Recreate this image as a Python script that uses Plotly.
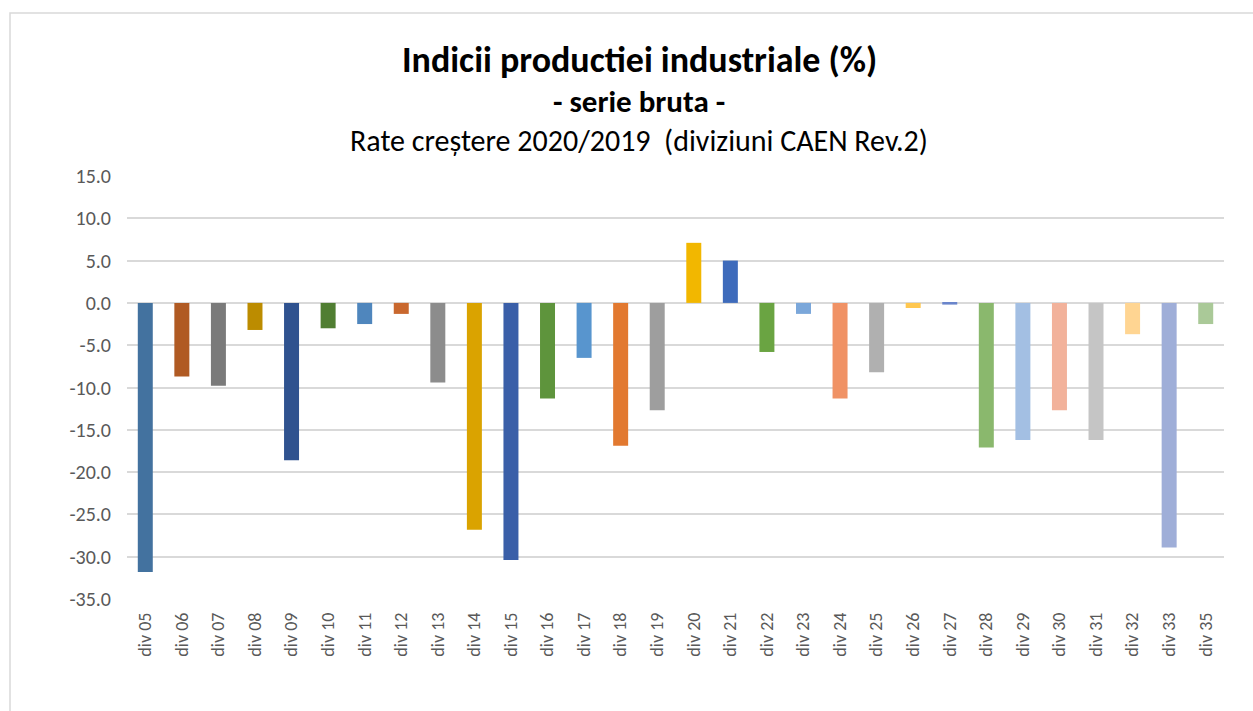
import plotly.graph_objects as go

categories = ["div 05", "div 06", "div 07", "div 08", "div 09", "div 10", "div 11", "div 12",
              "div 13", "div 14", "div 15", "div 16", "div 17", "div 18", "div 19", "div 20",
              "div 21", "div 22", "div 23", "div 24", "div 25", "div 26", "div 27", "div 28",
              "div 29", "div 30", "div 31", "div 32", "div 33", "div 35"]
values = [-31.8, -8.7, -9.8, -3.2, -18.6, -3.0, -2.5, -1.3,
          -9.4, -26.8, -30.4, -11.3, -6.5, -16.9, -12.7, 7.1,
          5.0, -5.8, -1.3, -11.3, -8.2, -0.6, -0.2, -17.1,
          -16.2, -12.7, -16.2, -3.7, -28.9, -2.5]
colors = ["#43729F", "#B05A23", "#7A7A7A", "#BC8C00", "#2F528F", "#507E32", "#4F86BD", "#C9682E",
          "#8C8C8C", "#DAA300", "#3A5FA8", "#5E943C", "#5895CE", "#E27930", "#9E9E9E", "#F2B700",
          "#3E6BBB", "#6AA442", "#7BA7DA", "#F09265", "#B0B0B0", "#FFC74F", "#6A85CB", "#8AB86D",
          "#A3BFE3", "#F2B29B", "#C5C5C5", "#FFD592", "#9FAED8", "#AAC998"]
y_ticks = [15, 10, 5, 0, -5, -10, -15, -20, -25, -30, -35]

FONT = "Carlito, Calibri, Lato, sans-serif"

W, H = 1253, 711
L, R, T, B = 127, 29, 176, 112

fig = go.Figure(go.Bar(
    x=categories, y=values, marker=dict(color=colors, line=dict(width=0)),
    hoverinfo="x+y",
))

fig.update_layout(
    width=W, height=H,
    margin=dict(l=L, r=R, t=T, b=B),
    paper_bgcolor="white", plot_bgcolor="white",
    bargap=0.59,
    showlegend=False,
    font=dict(family=FONT, color="#595959"),
    xaxis=dict(tickangle=-90, tickfont=dict(size=18, color="#595959", family=FONT),
               showgrid=False, showline=False, ticks="", ticklen=0, ticklabelstandoff=9),
    yaxis=dict(range=[-35, 15], tickvals=y_ticks, ticktext=[f"{v:.1f}" for v in y_ticks],
               tickfont=dict(size=20, color="#595959", family=FONT),
               showgrid=True, gridcolor="#D9D9D9", gridwidth=1.5,
               zeroline=True, zerolinecolor="#D9D9D9", zerolinewidth=1.5,
               showline=False, ticks="", ticklabelstandoff=15),
)

pw, ph = W - L - R, H - T - B


def px_x(x):
    return (x - L) / pw


def px_y(y):
    return (H - B - y) / ph


fig.add_shape(type="rect", xref="paper", yref="paper",
              x0=px_x(10), x1=px_x(1270), y0=px_y(730), y1=px_y(13),
              line=dict(color="#D9D9D9", width=1.5), fillcolor="rgba(0,0,0,0)", layer="below")

titles = [
    ("<b>Indicii productiei industriale (%)</b>", 60, 36),
    ("<b>- serie bruta -</b>", 101, 31),
    ("Rate creștere 2020/2019  (diviziuni CAEN Rev.2)", 140, 30),
]
for text, ypix, size in titles:
    fig.add_annotation(text=text, x=px_x(639), xref="paper", y=px_y(ypix), yref="paper",
                       yanchor="middle", xanchor="center", showarrow=False,
                       font=dict(size=size, color="#000000", family=FONT))

fig.write_html("out.html", config={"displayModeBar": False},
               post_script="document.body.style.margin='0px';document.body.style.overflow='hidden';")
